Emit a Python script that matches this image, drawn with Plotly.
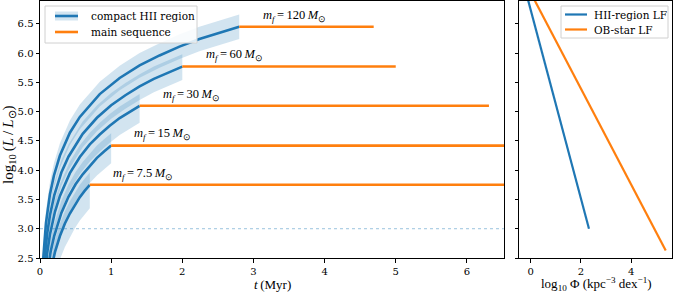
import plotly.graph_objects as go

# ---- data ----
masses = ["120", "60", "30", "15", "7.5"]
t_final = [2.8, 2.0, 1.4, 1.0, 0.7]          # Myr, end of accretion
logL_final = [6.45, 5.77, 5.10, 4.42, 3.75]
t_ms_end = [4.69, 5.0, 6.31, 7.0, 7.0]       # end of main-sequence line

track_t = {
    "120": [0.042, 0.056, 0.084, 0.14, 0.196, 0.28, 0.42, 0.56, 0.84, 1.12, 1.40, 1.68, 1.96, 2.24, 2.52, 2.80],
    "60":  [0.04, 0.06, 0.10, 0.14, 0.20, 0.30, 0.40, 0.60, 0.80, 1.00, 1.20, 1.40, 1.60, 1.80, 2.00],
    "30":  [0.042, 0.07, 0.098, 0.14, 0.21, 0.28, 0.42, 0.56, 0.70, 0.84, 0.98, 1.12, 1.26, 1.40],
    "15":  [0.10, 0.15, 0.20, 0.30, 0.40, 0.50, 0.60, 0.70, 0.80, 0.90, 1.00],
    "7.5": [0.14, 0.21, 0.28, 0.35, 0.42, 0.49, 0.56, 0.63, 0.70],
}
track_logL = {
    "120": [2.44, 2.71, 3.10, 3.59, 3.91, 4.25, 4.64, 4.91, 5.30, 5.575, 5.79, 5.96, 6.11, 6.24, 6.35, 6.45],
    "60":  [2.03, 2.42, 2.91, 3.23, 3.57, 3.96, 4.23, 4.62, 4.895, 5.11, 5.28, 5.43, 5.56, 5.67, 5.77],
    "30":  [1.75, 2.24, 2.56, 2.90, 3.29, 3.56, 3.95, 4.225, 4.44, 4.61, 4.76, 4.89, 5.00, 5.10],
    "15":  [2.22, 2.61, 2.88, 3.27, 3.545, 3.76, 3.93, 4.08, 4.21, 4.32, 4.42],
    "7.5": [2.21, 2.60, 2.875, 3.09, 3.26, 3.41, 3.54, 3.65, 3.75],
}
band_up = [0.21, 0.21, 0.20, 0.21, 0.21]     # dex above track
band_lo = [0.21, 0.23, 0.29, 0.30, 0.40]     # dex below track

threshold_logL = 3.0

lf_hii_phi = [-0.16, 2.32]
lf_hii_logL = [7.0, 3.0]
lf_ob_phi = [0.04, 5.37]
lf_ob_logL = [7.0, 2.63]

legend1_labels = ["compact HII region", "main sequence"]
legend2_labels = ["HII-region LF", "OB-star LF"]

BLUE = "#1f77b4"
ORANGE = "#ff7f0e"
BAND = "rgba(31,119,180,0.2)"
TXT = "DejaVu Serif"
MATH = "Liberation Serif"

W, H = 674, 294
ML, MR, MT, MB = 40, 2, 1, 36
PW, PH = W - ML - MR, H - MT - MB


def px(xp):
    return (xp - ML) / PW


def py(yp):
    return (H - MB - yp) / PH


fig = go.Figure()

# bands
for i, m in enumerate(masses):
    t = track_t[m]
    L = track_logL[m]
    up = [v + band_up[i] for v in L]
    lo = [v - band_lo[i] for v in L]
    fig.add_trace(go.Scatter(x=t + t[::-1], y=up + lo[::-1], fill="toself",
                             fillcolor=BAND, line=dict(width=0), mode="lines",
                             showlegend=False, hoverinfo="skip",
                             xaxis="x", yaxis="y"))

# threshold dotted line
fig.add_trace(go.Scatter(x=[0, 6.52], y=[threshold_logL, threshold_logL], mode="lines",
                         line=dict(color="rgba(31,119,180,0.45)", width=1, dash="dot"),
                         showlegend=False, xaxis="x", yaxis="y"))

# tracks
for i, m in enumerate(masses):
    fig.add_trace(go.Scatter(x=track_t[m], y=track_logL[m], mode="lines",
                             line=dict(color=BLUE, width=2.6), showlegend=False,
                             xaxis="x", yaxis="y"))

# main sequence
for i, m in enumerate(masses):
    fig.add_trace(go.Scatter(x=[t_final[i], t_ms_end[i]], y=[logL_final[i], logL_final[i]],
                             mode="lines", line=dict(color=ORANGE, width=2.6),
                             showlegend=False, xaxis="x", yaxis="y"))

# labels
for i, m in enumerate(masses):
    fig.add_annotation(x=t_final[i] + 0.3, y=logL_final[i] + 0.19, xref="x", yref="y",
                       text=f"<i>m</i><sub><i>f</i></sub>\u2009=\u2009{m}\u2009<i>M</i><sub>⊙</sub>",
                       showarrow=False, xanchor="left", yanchor="middle",
                       font=dict(family=MATH, size=12.5, color="black"))

# luminosity functions
fig.add_trace(go.Scatter(x=lf_hii_phi, y=lf_hii_logL, mode="lines",
                         line=dict(color=BLUE, width=2.2), showlegend=False,
                         xaxis="x2", yaxis="y2"))
fig.add_trace(go.Scatter(x=lf_ob_phi, y=lf_ob_logL, mode="lines",
                         line=dict(color=ORANGE, width=2.2), showlegend=False,
                         xaxis="x2", yaxis="y2"))

# ---- hand-drawn legends ----
shapes = []
shapes.append(dict(type="rect", xref="paper", yref="paper", x0=px(45), x1=px(197),
                   y0=py(43), y1=py(6), line=dict(color="#d0d0d0", width=1),
                   fillcolor="rgba(255,255,255,0.85)", layer="above"))
shapes.append(dict(type="rect", xref="paper", yref="paper", x0=px(55), x1=px(78),
                   y0=py(20.5), y1=py(11.5), line=dict(width=0), fillcolor=BAND, layer="above"))
shapes.append(dict(type="line", xref="paper", yref="paper", x0=px(55), x1=px(78),
                   y0=py(16), y1=py(16), line=dict(color=BLUE, width=2.6), layer="above"))
shapes.append(dict(type="line", xref="paper", yref="paper", x0=px(55), x1=px(78),
                   y0=py(32), y1=py(32), line=dict(color=ORANGE, width=2.6), layer="above"))
shapes.append(dict(type="rect", xref="paper", yref="paper", x0=px(561), x1=px(668),
                   y0=py(38), y1=py(6), line=dict(color="#d0d0d0", width=1),
                   fillcolor="rgba(255,255,255,0.85)", layer="above"))
shapes.append(dict(type="line", xref="paper", yref="paper", x0=px(565), x1=px(587),
                   y0=py(14.5), y1=py(14.5), line=dict(color=BLUE, width=2.2), layer="above"))
shapes.append(dict(type="line", xref="paper", yref="paper", x0=px(565), x1=px(587),
                   y0=py(29.5), y1=py(29.5), line=dict(color=ORANGE, width=2.2), layer="above"))

for lab, yy in zip(legend1_labels, [16, 32]):
    fig.add_annotation(x=px(89), y=py(yy), xref="paper", yref="paper", text=lab,
                       showarrow=False, xanchor="left", yanchor="middle",
                       font=dict(family=TXT, size=10.5, color="black"))
for lab, yy in zip(legend2_labels, [14.5, 29.5]):
    fig.add_annotation(x=px(592), y=py(yy), xref="paper", yref="paper", text=lab,
                       showarrow=False, xanchor="left", yanchor="middle",
                       font=dict(family=TXT, size=10.5, color="black"))

# axis titles
fig.add_annotation(x=px(272), y=py(284), xref="paper", yref="paper",
                   text="<i>t</i>\u2009(Myr)", showarrow=False, xanchor="center", yanchor="middle",
                   font=dict(family=MATH, size=13, color="black"))
fig.add_annotation(x=px(596), y=py(284), xref="paper", yref="paper",
                   text="log<sub>10</sub> Φ (kpc<sup>−3</sup> dex<sup>−1</sup>)",
                   showarrow=False, xanchor="center", yanchor="middle",
                   font=dict(family=MATH, size=13, color="black"))
fig.add_annotation(x=px(9), y=py(145), xref="paper", yref="paper",
                   text="log<sub>10</sub>\u2009(<i>L</i>\u2009/\u2009<i>L</i><sub>⊙</sub>)",
                   textangle=-90,
                   showarrow=False, xanchor="center", yanchor="middle",
                   font=dict(family=MATH, size=15, color="black"))

ax = dict(showline=True, linecolor="black", linewidth=1, mirror=True,
          ticks="outside", ticklen=3.5, tickcolor="black", tickwidth=1,
          showgrid=False, zeroline=False, automargin=False,
          tickfont=dict(family=TXT, size=10, color="black"))

fig.update_layout(
    width=W, height=H,
    margin=dict(l=ML, r=MR, t=MT, b=MB, autoexpand=False),
    paper_bgcolor="white", plot_bgcolor="white",
    showlegend=False,
    shapes=shapes,
    xaxis=dict(ax, domain=[0, 0.734], range=[0, 6.52], tickvals=[0, 1, 2, 3, 4, 5, 6],
               anchor="y"),
    yaxis=dict(ax, domain=[0, 1], range=[2.5, 6.89],
               tickvals=[2.5, 3.0, 3.5, 4.0, 4.5, 5.0, 5.5, 6.0, 6.5],
               ticktext=["2.5", "3.0", "3.5", "4.0", "4.5", "5.0", "5.5", "6.0", "6.5"],
               anchor="x"),
    xaxis2=dict(ax, domain=[0.758, 1], range=[-0.46, 5.62], tickvals=[0, 2, 4],
                anchor="y2"),
    yaxis2=dict(ax, domain=[0, 1], range=[2.5, 6.89], matches="y", showticklabels=False,
                tickvals=[2.5, 3.0, 3.5, 4.0, 4.5, 5.0, 5.5, 6.0, 6.5], anchor="x2"),
)

fig.write_html("out.html", config={"displayModeBar": False},
               post_script="document.body.style.margin='0';"
                           "document.body.style.overflow='hidden';")
